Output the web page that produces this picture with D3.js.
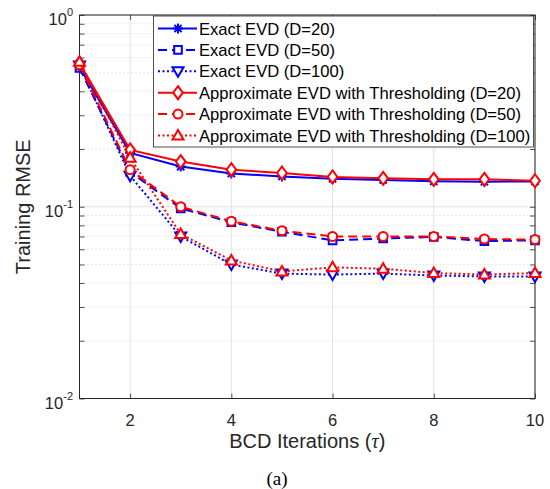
<!DOCTYPE html>
<html>
<head>
<meta charset="utf-8">
<script src="https://cdn.jsdelivr.net/npm/d3@7"></script>
<style>
    body { margin: 0; background: #fff; }
    text { font-family: "Liberation Sans", Arial, Helvetica, sans-serif; fill: #262626; }
</style>
</head>
<body>
<div id="graph"></div>
<script>
// data
var iterations = [1, 2, 3, 4, 5, 6, 7, 8, 9, 10];
var exactD20 = [0.535, 0.191, 0.162, 0.149, 0.144, 0.140, 0.138, 0.1357, 0.135, 0.1355];
var exactD50 = [0.530, 0.152, 0.098, 0.083, 0.074, 0.0668, 0.0683, 0.0696, 0.0662, 0.0668];
var exactD100 = [0.545, 0.145, 0.070, 0.050, 0.0448, 0.0443, 0.0448, 0.0438, 0.0433, 0.0433];
var approxD20 = [0.560, 0.198, 0.172, 0.156, 0.150, 0.143, 0.1406, 0.139, 0.139, 0.1366];
var approxD50 = [0.550, 0.156, 0.100, 0.084, 0.075, 0.070, 0.070, 0.070, 0.0679, 0.0674];
var approxD100 = [0.570, 0.180, 0.072, 0.0525, 0.046, 0.0483, 0.0475, 0.0451, 0.0443, 0.0451];
var xTicks = [2, 4, 6, 8, 10];
var yMajor = [0.01, 0.1, 1];
var legendLabels = ["Exact EVD (D=20)", "Exact EVD (D=50)", "Exact EVD (D=100)",
    "Approximate EVD with Thresholding (D=20)", "Approximate EVD with Thresholding (D=50)",
    "Approximate EVD with Thresholding (D=100)"];

var series = [
    { values: exactD20, color: "#0000ff", dash: null, marker: "star" },
    { values: exactD50, color: "#0000ff", dash: "9,5", marker: "square" },
    { values: exactD100, color: "#0000ff", dash: "2,2.5", marker: "down" },
    { values: approxD20, color: "#ff0000", dash: null, marker: "diamond" },
    { values: approxD50, color: "#ff0000", dash: "9,5", marker: "circle" },
    { values: approxD100, color: "#ff0000", dash: "2,2.5", marker: "up" }
];

var width = 550, height = 489;
var plotLeft = 79.5, plotRight = 535, plotTop = 15, plotBottom = 398.5;

var svg = d3.select("#graph").append("svg")
    .attr("width", width)
    .attr("height", height);

var x = d3.scaleLinear().domain([1, 10]).range([plotLeft, plotRight]);
var y = d3.scaleLog().domain([0.01, 1]).range([plotBottom, plotTop]);

// minor values on the log axis
var yMinor = [];
[0.01, 0.1].forEach(function (d) {
    for (var k = 2; k <= 9; k++) { yMinor.push(d * k); }
});

// grid
var grid = svg.append("g");
grid.selectAll(".ym").data(yMinor).enter().append("line")
    .attr("x1", plotLeft).attr("x2", plotRight)
    .attr("y1", function (d) { return y(d); }).attr("y2", function (d) { return y(d); })
    .attr("stroke", "#c8c8c8").attr("stroke-width", 0.8).attr("stroke-dasharray", "1,3");
grid.selectAll(".yM").data(yMajor).enter().append("line")
    .attr("x1", plotLeft).attr("x2", plotRight)
    .attr("y1", function (d) { return y(d); }).attr("y2", function (d) { return y(d); })
    .attr("stroke", "#e2e2e2").attr("stroke-width", 1);
grid.selectAll(".xM").data(xTicks).enter().append("line")
    .attr("y1", plotTop).attr("y2", plotBottom)
    .attr("x1", function (d) { return x(d); }).attr("x2", function (d) { return x(d); })
    .attr("stroke", "#e2e2e2").attr("stroke-width", 1);

// axes with inward ticks on all four sides
var axisColor = "#262626";
svg.append("g").attr("transform", "translate(0," + plotBottom + ")")
    .call(d3.axisBottom(x).tickValues(xTicks).tickSize(-5).tickFormat(""));
svg.append("g").attr("transform", "translate(0," + plotTop + ")")
    .call(d3.axisTop(x).tickValues(xTicks).tickSize(-5).tickFormat(""));
svg.append("g").attr("transform", "translate(" + plotLeft + ",0)")
    .call(d3.axisLeft(y).tickValues(yMajor.concat(yMinor)).tickSize(-5).tickFormat(""));
svg.append("g").attr("transform", "translate(" + plotRight + ",0)")
    .call(d3.axisRight(y).tickValues(yMajor.concat(yMinor)).tickSize(-5).tickFormat(""));
svg.selectAll(".domain").remove();
svg.selectAll(".tick line").attr("stroke", axisColor).attr("stroke-width", 0.8);
svg.append("rect")
    .attr("x", plotLeft).attr("y", plotTop)
    .attr("width", plotRight - plotLeft).attr("height", plotBottom - plotTop)
    .attr("fill", "none").attr("stroke", axisColor).attr("stroke-width", 1);

// tick labels
svg.selectAll(".xl").data(xTicks).enter().append("text")
    .attr("x", function (d) { return x(d); })
    .attr("y", 426)
    .attr("text-anchor", "middle")
    .style("font-size", "16.5px")
    .text(function (d) { return d; });

var yl = svg.selectAll(".yl").data(yMajor).enter().append("text")
    .attr("x", 73)
    .attr("y", function (d) { return y(d) + 10; })
    .attr("text-anchor", "end")
    .style("font-size", "16.5px");
yl.append("tspan").text("10");
yl.append("tspan")
    .attr("dy", -9)
    .style("font-size", "11px")
    .text(function (d) { return Math.round(Math.log10(d)); });

// axis titles
svg.append("text")
    .attr("x", (plotLeft + plotRight) / 2)
    .attr("y", 448)
    .attr("text-anchor", "middle")
    .style("font-size", "20px")
    .html("BCD Iterations (<tspan style=\"font-family:'Liberation Serif',serif;font-style:italic\">τ</tspan>)");

svg.append("text")
    .attr("transform", "translate(30," + (plotTop + plotBottom) / 2 + ") rotate(-90)")
    .attr("text-anchor", "middle")
    .style("font-size", "20px")
    .text("Training RMSE");

svg.append("text")
    .attr("x", 277)
    .attr("y", 485)
    .attr("text-anchor", "middle")
    .style("font-family", "'Liberation Serif', 'Times New Roman', serif")
    .style("font-size", "19px")
    .style("fill", "#000")
    .text("(a)");

// marker shapes
function markerPath(type) {
    var p = d3.path();
    if (type == "star") {
        var r = 5;
        p.moveTo(-r, 0); p.lineTo(r, 0);
        p.moveTo(0, -r); p.lineTo(0, r);
        var q = r * 0.72;
        p.moveTo(-q, -q); p.lineTo(q, q);
        p.moveTo(-q, q); p.lineTo(q, -q);
    } else if (type == "square") {
        p.rect(-3.8, -3.8, 7.6, 7.6);
    } else if (type == "down") {
        p.moveTo(-5.5, -4); p.lineTo(5.5, -4); p.lineTo(0, 5.5); p.closePath();
    } else if (type == "up") {
        p.moveTo(-5.5, 4); p.lineTo(5.5, 4); p.lineTo(0, -5.5); p.closePath();
    } else if (type == "diamond") {
        p.moveTo(0, -6.5); p.lineTo(4.8, 0); p.lineTo(0, 6.5); p.lineTo(-4.8, 0); p.closePath();
    } else if (type == "circle") {
        p.arc(0, 0, 4.5, 0, 2 * Math.PI);
    }
    return p.toString();
}

function drawMarker(g, s, px, py) {
    g.append("path")
        .attr("transform", "translate(" + px + "," + py + ")")
        .attr("d", markerPath(s.marker))
        .attr("fill", s.marker == "star" ? "none" : "#fff")
        .attr("stroke", s.color)
        .attr("stroke-width", 2);
}

// lines
var line = d3.line()
    .x(function (d, i) { return x(iterations[i]); })
    .y(function (d) { return y(d); });

var plot = svg.append("g");
series.forEach(function (s) {
    var g = plot.append("g");
    g.append("path")
        .attr("d", line(s.values))
        .attr("fill", "none")
        .attr("stroke", s.color)
        .attr("stroke-width", 2)
        .attr("stroke-dasharray", s.dash);
    s.values.forEach(function (v, i) {
        drawMarker(g, s, x(iterations[i]), y(v));
    });
});

// legend
var lg = svg.append("g");
lg.append("rect")
    .attr("x", 153.5).attr("y", 16)
    .attr("width", 380).attr("height", 131)
    .attr("fill", "#fff")
    .attr("stroke", axisColor)
    .attr("stroke-width", 0.8);
series.forEach(function (s, i) {
    var ry = 28.5 + i * 21.4;
    lg.append("line")
        .attr("x1", 158).attr("x2", 197)
        .attr("y1", ry).attr("y2", ry)
        .attr("stroke", s.color)
        .attr("stroke-width", 2)
        .attr("stroke-dasharray", s.dash);
    drawMarker(lg, s, 178, ry);
    lg.append("text")
        .attr("x", 199)
        .attr("y", ry + 6)
        .style("font-size", "16.6px")
        .style("fill", "#000")
        .text(legendLabels[i]);
});
</script>
</body>
</html>
